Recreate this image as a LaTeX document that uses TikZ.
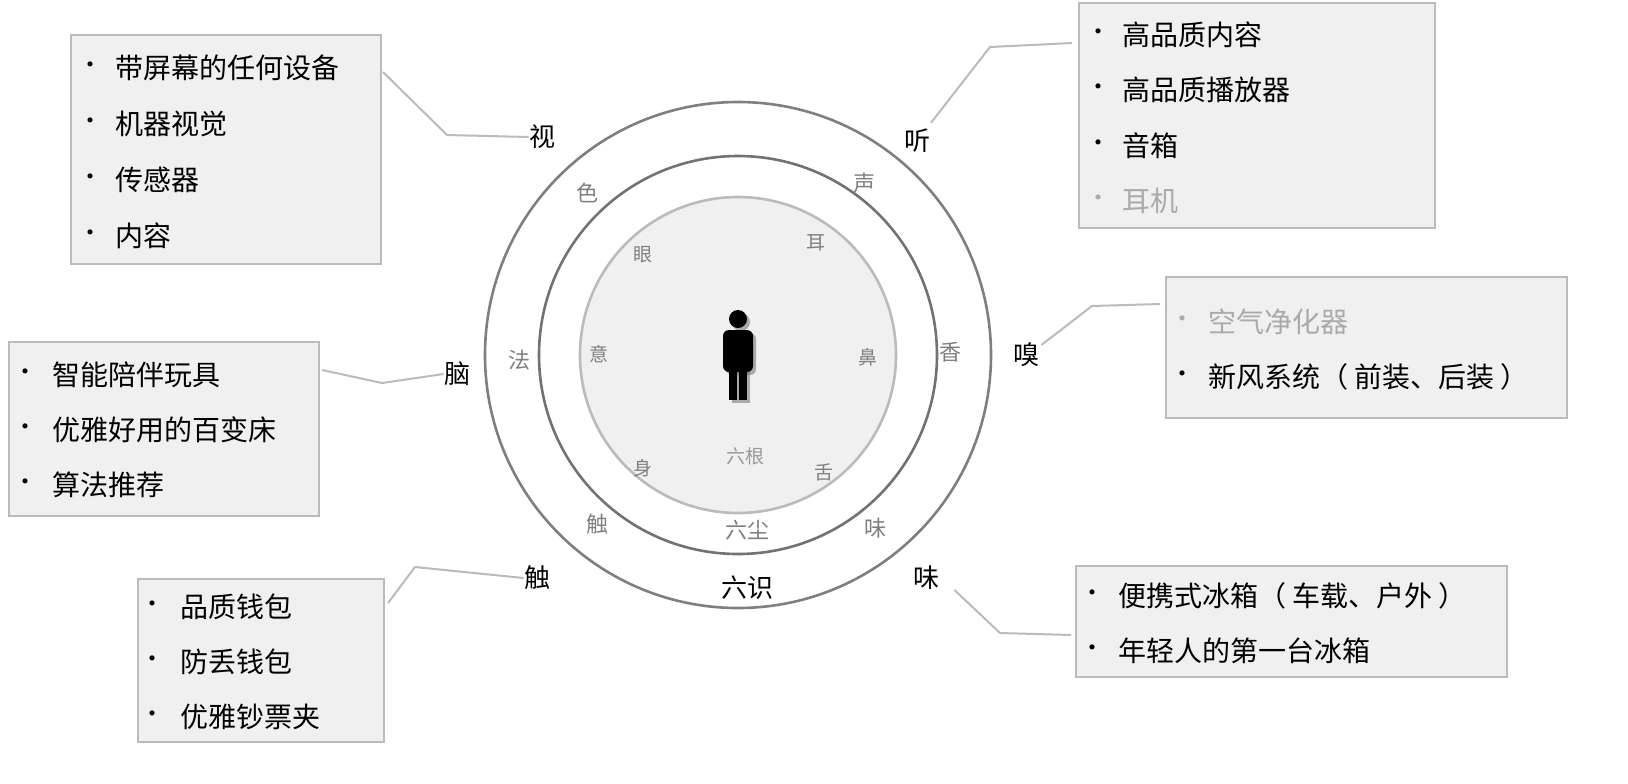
\documentclass[tikz,border=0pt]{standalone}
\usepackage{fontspec}
\setmainfont{Noto Sans CJK SC}
\begin{document}
\begin{tikzpicture}[x=0.5pt,y=-0.5pt]
\definecolor{boxfill}{HTML}{F0F0F0}
\definecolor{boxline}{HTML}{BBBBBB}
\definecolor{ringgray}{HTML}{7F7F7F}
\definecolor{lightt}{HTML}{AAAAAA}
\tikzset{
 box/.style={draw=boxline,fill=boxfill,line width=1pt},
 conn/.style={draw=boxline,line width=1pt},
 item/.style={anchor=west,font=\fontsize{14pt}{16pt}\selectfont,inner sep=0},
 bul/.style={font=\fontsize{12pt}{12pt}\selectfont,inner sep=0},
 outer/.style={font=\fontsize{13pt}{15pt}\selectfont,inner sep=0},
 mid/.style={font=\fontsize{11pt}{13pt}\selectfont,text=ringgray,inner sep=0},
 inn/.style={font=\fontsize{9.5pt}{11pt}\selectfont,text=ringgray,inner sep=0},
}
% circles
\draw[draw=ringgray,line width=1.3pt] (738,355) circle[radius=253];
\draw[draw=ringgray!90!black,line width=1.3pt,fill=white] (738,355) circle[radius=199];
\draw[draw=boxline,line width=1.3pt,fill=boxfill] (738,355) circle[radius=158];
% person
\fill[black!60,opacity=0.5] (741,322) circle[radius=9];
\fill[black!60,opacity=0.5,rounded corners=3pt] (726,333) rectangle (756,375);
\fill[black!60,opacity=0.5] (732,371) rectangle (750,403);
\fill[black] (738,319) circle[radius=9];
\fill[black,rounded corners=3pt] (723,330) rectangle (753,372);
\fill[black] (729,368) rectangle (737,400);
\fill[black] (739,368) rectangle (747,400);
% inner labels
\node[inn] (yan) at (643,255) {眼};
\node[inn] (er) at (816,243) {耳};
\node[inn] (yi) at (599,354) {意};
\node[inn] (bi) at (868,357) {鼻};
\node[inn] (shen) at (643,468) {身};
\node[inn] (she) at (824,472) {舌};
\node[inn,text=lightt!90!black] (liugen) at (745,456) {六根};
% middle labels
\node[mid] (se) at (587,193) {色};
\node[mid] (sheng) at (864,183) {声};
\node[mid] (fa) at (519,360) {法};
\node[mid] (xiang) at (950,352) {香};
\node[mid] (chu2) at (597,524) {触};
\node[mid] (wei2) at (875,528) {味};
\node[mid] (liuchen) at (747,530) {六尘};
% outer labels
\node[outer] (shi) at (542,137) {视};
\node[outer] (ting) at (917,141) {听};
\node[outer] (nao) at (457,374) {脑};
\node[outer] (xiu) at (1026,355) {嗅};
\node[outer] (chu) at (537,578) {触};
\node[outer] (wei) at (926,578) {味};
\node[outer] (liushi) at (747,588) {六识};
% boxes
\node[box,minimum width=155pt,minimum height=114.5pt,anchor=north west] (b1) at (70,34) {};
\node[box,minimum width=178pt,minimum height=112.5pt,anchor=north west] (b2) at (1078,2) {};
\node[box,minimum width=200.5pt,minimum height=70.5pt,anchor=north west] (b3) at (1165,276) {};
\node[box,minimum width=155pt,minimum height=87pt,anchor=north west] (b4) at (8,341) {};
\node[box,minimum width=123pt,minimum height=81.5pt,anchor=north west] (b5) at (137,578) {};
\node[box,minimum width=215.5pt,minimum height=55.5pt,anchor=north west] (b6) at (1075,565) {};
% box items
\foreach \y/\t in {68/带屏幕的任何设备,124/机器视觉,180/传感器,236/内容}{\node[bul] at (90,\y) {•};\node[item] at (115,\y) {\t};}
\foreach \y/\t in {35/高品质内容,90/高品质播放器,146/音箱}{\node[bul] at (1098,\y) {•};\node[item] at (1122,\y) {\t};}
\node[bul,text=lightt] at (1098,201) {•};\node[item,text=lightt] at (1122,201) {耳机};
\node[bul,text=lightt] at (1182,322) {•};\node[item,text=lightt] at (1208,322) {空气净化器};
\node[bul] at (1182,377) {•};\node[item] at (1208,377) {新风系统（ 前装、后装 ）};
\foreach \y/\t in {375/智能陪伴玩具,430/优雅好用的百变床,485/算法推荐}{\node[bul] at (25,\y) {•};\node[item] at (52,\y) {\t};}
\foreach \y/\t in {607/品质钱包,662/防丢钱包,717/优雅钞票夹}{\node[bul] at (152,\y) {•};\node[item] at (180,\y) {\t};}
\foreach \y/\t in {596/便携式冰箱（ 车载、户外 ）,651/年轻人的第一台冰箱}{\node[bul] at (1092,\y) {•};\node[item] at (1118,\y) {\t};}
% connectors
\coordinate (c1) at (383,72);\draw[conn] (c1) -- (447,135) -- (shi.west);
\coordinate (c2) at (1072,43);\draw[conn] (ting.north) ++(14,-6) -- (990,47) -- (c2);
\coordinate (c3) at (1160,304);\draw[conn] (xiu.east) ++(2,-10) -- (1092,306) -- (c3);
\coordinate (c4) at (322,370);\draw[conn] (c4) -- (382,383) -- (nao.west);
\coordinate (c5) at (388,603);\draw[conn] (c5) -- (415,567) -- (chu.west);
\coordinate (c6) at (1071,635);\draw[conn] (wei.east) ++(15,12) -- (1000,633) -- (c6);
\pgfresetboundingbox
\path[use as bounding box] (0,0) rectangle (1628,783);
\end{tikzpicture}
\end{document}
